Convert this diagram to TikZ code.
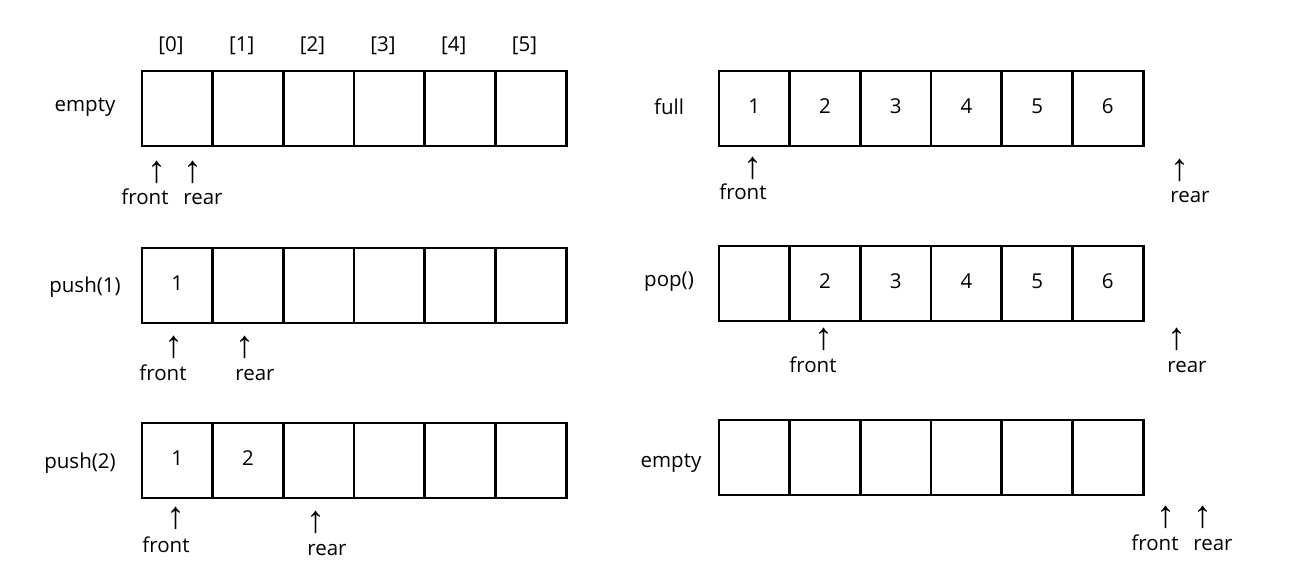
\documentclass[tikz,border=0pt]{standalone}
\usepackage{fontspec}
\setmainfont{Open Sans}
\newfontfamily\arrowfont{Liberation Sans}
\usetikzlibrary{positioning}

\begin{document}
\begin{tikzpicture}[x=1pt, y=-1pt,
    cell/.style={rectangle, draw, line width=2.7pt,
                 minimum width=70.7pt, minimum height=75pt, inner sep=0pt},
    tag/.style={font=\fontsize{20.5}{24}\selectfont, inner sep=0pt,
                text height=14pt, text depth=4pt},
    ptr/.style={font=\arrowfont\fontsize{38}{40}\selectfont, inner sep=0pt},
]
    \useasboundingbox (0,0) rectangle (1294,588);
    % index labels
    \foreach \i in {0,...,5}
        \node[tag] (idx\i) at ({171+70.7*\i}, 47) {[\i]};
    % the six arrays
    \foreach \row/\x/\y in {L1/142/71, L2/142/248, L3/142/423,
                            R1/719/71, R2/719/246, R3/719/420}
        \foreach \i in {0,...,5}
            \node[cell] (\row-\i) at ({\x+35.35+70.7*\i}, {\y+37.5}) {};
    % stored values
    \node[tag] (L2v0) at (L2-0) {1};
    \node[tag] (L3v0) at (L3-0) {1};
    \node[tag] (L3v1) at (L3-1) {2};
    \foreach \i/\v in {0/1, 1/2, 2/3, 3/4, 4/5, 5/6}
        \node[tag] (R1v\i) at (R1-\i) {\v};
    \foreach \i/\v in {1/2, 2/3, 3/4, 4/5, 5/6}
        \node[tag] (R2v\i) at (R2-\i) {\v};
    % operation names
    \node[tag] (L1name) at (85,107) {empty};
    \node[tag] (L2name) at (85,288) {push(1)};
    \node[tag] (L3name) at (80,463) {push(2)};
    \node[tag] (R1name) at (669,110) {full};
    \node[tag] (R2name) at (669,282) {pop()};
    \node[tag] (R3name) at (671,462) {empty};
    % front / rear pointers
    \foreach \row/\fx/\fy/\rx/\ry/\ftx/\fty/\rtx/\rty in {
            L1/157/172/193/172/145/200/203/200,
            L2/174/347/245/347/163/375/255/375,
            L3/176/518/316/522/166/547/327/550,
            R1/753/168/1180/170/743/195/1190/198,
            R2/824/339/1177/339/813/367/1187/367,
            R3/1166/517/1203/517/1155/545/1213/545} {
        \node[ptr] (\row fa) at (\fx,\fy) {↑};
        \node[ptr] (\row ra) at (\rx,\ry) {↑};
        \node[tag] (\row front) at (\ftx,\fty) {front};
        \node[tag] (\row rear) at (\rtx,\rty) {rear};
    }
\end{tikzpicture}
\end{document}
